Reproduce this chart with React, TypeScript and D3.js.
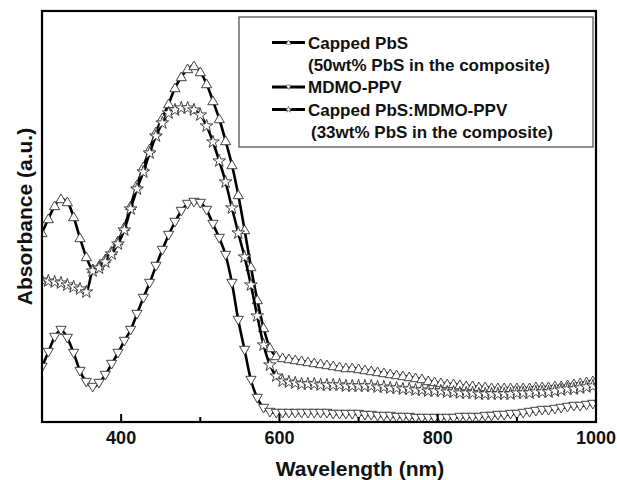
import React from 'react';
import * as d3 from 'd3';

// Sampled wavelengths (nm)
const wavelength = [
  300, 308, 316, 324, 332, 340, 348, 356, 364, 372,
  380, 388, 396, 404, 412, 420, 428, 436, 444, 452,
  460, 468, 476, 484, 492, 500, 508, 516, 524, 532,
  540, 548, 556, 564, 572, 580, 588, 596, 604, 612,
  620, 628, 636, 644, 652, 660, 668, 676, 684, 692,
  700, 708, 716, 724, 732, 740, 748, 756, 764, 772,
  780, 788, 796, 804, 812, 820, 828, 836, 844, 852,
  860, 868, 876, 884, 892, 900, 908, 916, 924, 932,
  940, 948, 956, 964, 972, 980, 988, 996, 1004,
];

// Capped PbS (50wt% PbS in the composite)
const cappedPbS = [
  1.89, 2.03, 2.16, 2.23, 2.20, 2.05, 1.84, 1.65, 1.53, 1.56,
  1.63, 1.71, 1.81, 1.95, 2.16, 2.37, 2.55, 2.73, 2.90, 3.04,
  3.18, 3.34, 3.45, 3.53, 3.56, 3.50, 3.38, 3.21, 3.03, 2.81,
  2.57, 2.27, 1.92, 1.55, 1.22, 0.94, 0.74, 0.66, 0.64, 0.63,
  0.62, 0.61, 0.60, 0.59, 0.58, 0.57, 0.56, 0.55, 0.54, 0.54,
  0.53, 0.52, 0.51, 0.50, 0.49, 0.48, 0.47, 0.46, 0.45, 0.44,
  0.43, 0.41, 0.40, 0.39, 0.38, 0.38, 0.37, 0.36, 0.36, 0.35,
  0.35, 0.34, 0.34, 0.34, 0.34, 0.34, 0.34, 0.34, 0.35, 0.35,
  0.35, 0.36, 0.36, 0.37, 0.38, 0.39, 0.40, 0.41, 0.41,
];

// MDMO-PPV
const mdmoPPV = [
  0.55, 0.70, 0.85, 0.92, 0.84, 0.69, 0.51, 0.40, 0.35, 0.39,
  0.47, 0.58, 0.69, 0.81, 0.92, 1.08, 1.24, 1.39, 1.56, 1.72,
  1.87, 2.00, 2.11, 2.18, 2.20, 2.19, 2.12, 1.98, 1.84, 1.67,
  1.39, 1.02, 0.72, 0.42, 0.24, 0.14, 0.10, 0.09, 0.09, 0.09,
  0.09, 0.09, 0.09, 0.09, 0.09, 0.09, 0.08, 0.08, 0.08, 0.08,
  0.08, 0.07, 0.07, 0.06, 0.06, 0.06, 0.05, 0.05, 0.05, 0.04,
  0.04, 0.04, 0.04, 0.04, 0.04, 0.04, 0.05, 0.05, 0.05, 0.05,
  0.06, 0.06, 0.07, 0.07, 0.08, 0.08, 0.09, 0.10, 0.11, 0.12,
  0.12, 0.13, 0.14, 0.15, 0.16, 0.16, 0.17, 0.18, 0.18,
];

// Capped PbS:MDMO-PPV (33wt% PbS in the composite)
const composite = [
  1.42, 1.41, 1.40, 1.39, 1.37, 1.35, 1.33, 1.30, 1.51, 1.54,
  1.60, 1.68, 1.78, 1.92, 2.13, 2.33, 2.50, 2.69, 2.86, 2.99,
  3.09, 3.12, 3.14, 3.14, 3.12, 3.07, 2.96, 2.80, 2.61, 2.40,
  2.14, 1.89, 1.65, 1.37, 1.06, 0.77, 0.57, 0.46, 0.41, 0.40,
  0.39, 0.38, 0.38, 0.38, 0.37, 0.37, 0.37, 0.37, 0.36, 0.36,
  0.36, 0.36, 0.36, 0.35, 0.35, 0.34, 0.34, 0.33, 0.33, 0.32,
  0.32, 0.31, 0.31, 0.31, 0.30, 0.30, 0.29, 0.29, 0.29, 0.28,
  0.28, 0.28, 0.28, 0.28, 0.28, 0.29, 0.29, 0.29, 0.30, 0.30,
  0.30, 0.31, 0.32, 0.33, 0.33, 0.34, 0.35, 0.36, 0.36,
];

const majorTicks = [400, 600, 800, 1000];
const minorTicks = [500, 700, 900];

const legendRows = [
  'Capped PbS',
  '(50wt% PbS in the composite)',
  'MDMO-PPV',
  'Capped PbS:MDMO-PPV',
  '(33wt% PbS in the composite)',
];

const W = 617;
const H = 480;
const margin = { left: 42, right: 21, top: 11, bottom: 58 };
const FONT = "'Liberation Sans', Arial, Helvetica, sans-serif";

const triUp = 'M0,-5L5.1,3.7L-5.1,3.7Z';
const triDown = 'M0,5L5.1,-3.7L-5.1,-3.7Z';
const starPath = d3.symbol(d3.symbolStar, 50)() as string;

export default function App() {
  const x = d3.scaleLinear().domain([300, 1000]).range([margin.left, W - margin.right]);
  const y = d3.scaleLinear().domain([0, 4.11]).range([H - margin.bottom, margin.top]);
  const line = d3
    .line<number>()
    .x((_, i) => x(wavelength[i]))
    .y((d) => y(d))
    .curve(d3.curveMonotoneX);

  const series = [
    { key: 'mdmo', values: mdmoPPV, marker: triDown },
    { key: 'capped', values: cappedPbS, marker: triUp },
    { key: 'comp', values: composite, marker: starPath },
  ];

  const x0 = margin.left;
  const x1 = W - margin.right;
  const y0 = H - margin.bottom;
  const y1 = margin.top;

  const legendItems = [
    { row: 0, marker: triUp },
    { row: 2, marker: triDown },
    { row: 3, marker: starPath },
  ];
  const rowY = [42.5, 64.5, 87, 109.5, 131.5];

  return (
    <svg
      width={W}
      height={H}
      style={{ position: 'absolute', left: 0, top: 0, background: '#fff' }}
      fontFamily={FONT}
    >
      <defs>
        <clipPath id="plot">
          <rect x={x0} y={y1} width={x1 - x0} height={y0 - y1} />
        </clipPath>
      </defs>
      <rect x={0} y={0} width={W} height={H} fill="#fff" />

      <g clipPath="url(#plot)">
        {series.map((s) => (
          <g key={s.key}>
            <path d={line(s.values) as string} fill="none" stroke="#000" strokeWidth={2.6} />
            {s.values.map((v, i) => (
              <path
                key={i}
                d={s.marker}
                transform={`translate(${x(wavelength[i])},${y(v)})`}
                fill="#fff"
                stroke="#3a3a3a"
                strokeWidth={0.95}
              />
            ))}
          </g>
        ))}
      </g>

      {/* ticks */}
      {majorTicks.map((t) => (
        <line key={'M' + t} x1={x(t)} x2={x(t)} y1={y0} y2={y0 - 8} stroke="#000" strokeWidth={2} />
      ))}
      {minorTicks.map((t) => (
        <line key={'m' + t} x1={x(t)} x2={x(t)} y1={y0} y2={y0 - 5} stroke="#000" strokeWidth={2} />
      ))}

      {/* frame */}
      <rect x={x0} y={y1} width={x1 - x0} height={y0 - y1} fill="none" stroke="#000" strokeWidth={2.2} />

      {/* tick labels */}
      {majorTicks.map((t) => (
        <text
          key={'L' + t}
          x={x(t)}
          y={444}
          textAnchor="middle"
          fontSize={18}
          fontWeight="bold"
          fill="#111"
        >
          {t}
        </text>
      ))}

      <text x={360} y={476} textAnchor="middle" fontSize={21} fontWeight="bold" fill="#111">
        Wavelength (nm)
      </text>
      <text
        transform={`translate(32,${(y0 + y1) / 2}) rotate(-90)`}
        textAnchor="middle"
        fontSize={21}
        fontWeight="bold"
        fill="#111"
      >
        Absorbance (a.u.)
      </text>

      {/* legend */}
      <rect x={239} y={17} width={354} height={130} fill="#fff" stroke="#555" strokeWidth={1.3} />
      {legendItems.map((it) => (
        <g key={it.row}>
          <line x1={272} x2={305} y1={rowY[it.row]} y2={rowY[it.row]} stroke="#000" strokeWidth={3} />
          <path
            d={it.marker}
            transform={`translate(288.5,${rowY[it.row]}) scale(0.5)`}
            fill="#fff"
            stroke="#555"
            strokeWidth={1.2}
          />
        </g>
      ))}
      {legendRows.map((txt, i) => (
        <text
          key={i}
          x={i === 4 ? 311 : 308}
          y={rowY[i] + 6}
          fontSize={17}
          fontWeight="bold"
          fill="#111"
        >
          {txt}
        </text>
      ))}
    </svg>
  );
}
